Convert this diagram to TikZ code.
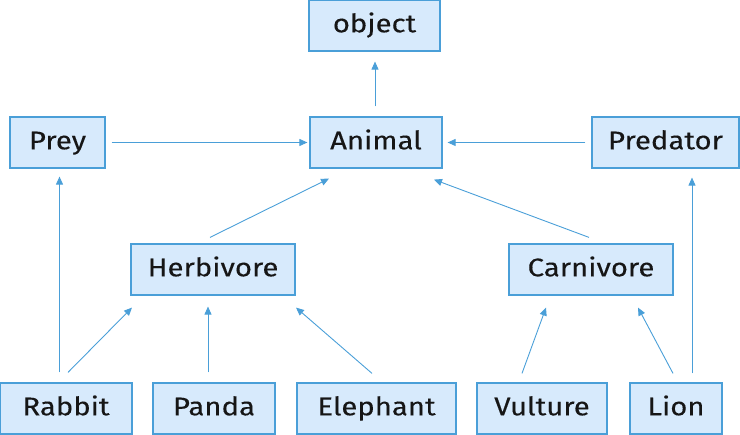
\documentclass[tikz,border=0pt]{standalone}
\usepackage{fontspec}
\setmainfont{Fira Sans}[FakeStretch=1.15,FakeBold=0.2]
\usetikzlibrary{arrows.meta}
\definecolor{lineblue}{HTML}{4A9FD8}
\definecolor{boxfill}{HTML}{D7EAFC}
\definecolor{textdark}{HTML}{161616}
\tikzset{
  box/.style={draw=lineblue, fill=boxfill, line width=1.2pt, minimum height=51pt, inner sep=0pt, text height=17.6pt, text depth=4pt, text=textdark, font=\fontsize{25.5}{29}\selectfont},
  arr/.style={draw=lineblue, line width=0.9pt, -{Triangle[length=8pt,width=7pt]}}
}
\begin{document}
\begin{tikzpicture}[x=1pt,y=1pt]
\useasboundingbox (0,0) rectangle (740,435);
\node[box, minimum width=131pt] (object) at (374.5,409.5) {object};
\node[box, minimum width=132pt] (Animal) at (376,292.5) {Animal};
\node[box, minimum width=95pt] (Prey) at (57.5,292.5) {Prey};
\node[box, minimum width=147pt] (Predator) at (665.5,292.5) {Predator};
\node[box, minimum width=164pt] (Herbivore) at (213,165.5) {Herbivore};
\node[box, minimum width=164pt] (Carnivore) at (591,165.5) {Carnivore};
\node[box, minimum width=132pt] (Rabbit) at (66,26.5) {Rabbit};
\node[box, minimum width=122pt] (Panda) at (214,26.5) {Panda};
\node[box, minimum width=159pt] (Elephant) at (376.5,26.5) {Elephant};
\node[box, minimum width=130pt] (Vulture) at (542,26.5) {Vulture};
\node[box, minimum width=92pt] (Lion) at (676,26.5) {Lion};
% connectors
\draw[arr] ([xshift=-1pt,yshift=10pt]Animal.north) -- ([xshift=0.5pt,yshift=-10pt]object.south);
\draw[arr] ([xshift=6pt]Prey.east) -- ([xshift=-2pt]Animal.west);
\draw[arr] ([xshift=-6pt]Predator.west) -- ([xshift=5pt]Animal.east);
\draw[arr] ([xshift=-3pt,yshift=6pt]Herbivore.north) -- ([xshift=-47pt,yshift=-10pt]Animal.south);
\draw[arr] ([xshift=-2pt,yshift=6pt]Carnivore.north) -- ([xshift=58pt,yshift=-11pt]Animal.south);
\draw[arr] ([xshift=-6.5pt,yshift=10pt]Rabbit.north) -- ([xshift=2pt,yshift=-8pt]Prey.south);
\draw[arr] ([xshift=2pt,yshift=10pt]Rabbit.north) -- ([xshift=-81pt,yshift=-12pt]Herbivore.south);
\draw[arr] ([xshift=-6pt,yshift=10pt]Panda.north) -- ([xshift=-5pt,yshift=-11pt]Herbivore.south);
\draw[arr] ([xshift=-4.5pt,yshift=9pt]Elephant.north) -- ([xshift=83pt,yshift=-12pt]Herbivore.south);
\draw[arr] ([xshift=-20pt,yshift=9pt]Vulture.north) -- ([xshift=-45pt,yshift=-12pt]Carnivore.south);
\draw[arr] ([xshift=-3pt,yshift=9pt]Lion.north) -- ([xshift=47pt,yshift=-12pt]Carnivore.south);
\draw[arr] ([xshift=16pt,yshift=9pt]Lion.north) -- ([xshift=26.5pt,yshift=-9pt]Predator.south);
\end{tikzpicture}
\end{document}
